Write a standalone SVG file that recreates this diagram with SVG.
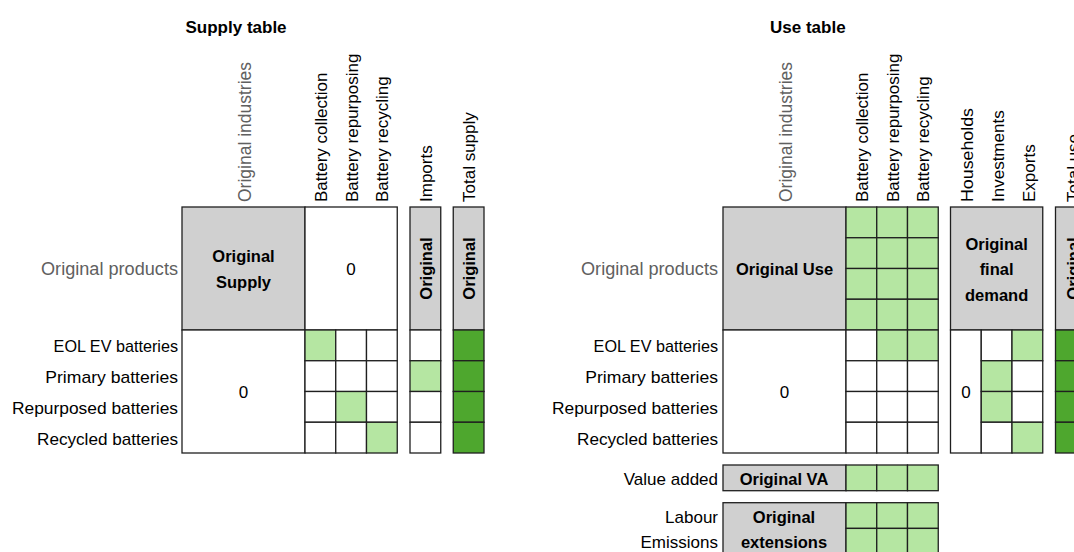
<svg xmlns="http://www.w3.org/2000/svg" width="1074" height="552" viewBox="0 0 1074 552">
<style>
text{font-family:"Liberation Sans",Arial,sans-serif;font-size:17px;fill:#000;stroke:none}
.t{font-weight:bold;font-size:17px}
.b{font-weight:bold;font-size:16.5px}
.gr{fill:#606060;font-size:17.5px}
.e{text-anchor:end}
.m{text-anchor:middle}
.c{stroke:#1f1f1f;stroke-width:1.3}
.g{fill:#d0d0d0}.lg{fill:#b5e6a2}.dg{fill:#4ea72e}.w{fill:#fff}
</style>
<rect x="0" y="0" width="1074" height="552" style="fill:#fff;stroke:none"/>

<!-- SUPPLY TABLE -->
<g id="supply-title"><text class="t" x="185.5" y="32.5">Supply table</text></g>
<g id="supply-col-headers">
<text class="gr" transform="translate(251,202) rotate(-90)">Original industries</text>
<text transform="translate(327,202) rotate(-90)">Battery collection</text>
<text transform="translate(357.7,202) rotate(-90)">Battery repurposing</text>
<text transform="translate(388.4,202) rotate(-90)">Battery recycling</text>
<text transform="translate(432,202) rotate(-90)">Imports</text>
<text transform="translate(475.2,202) rotate(-90)">Total supply</text>
</g>
<g id="supply-row-headers">
<text class="gr e" x="178" y="275.3" textLength="137" lengthAdjust="spacingAndGlyphs">Original products</text>
<text class="e" x="178" y="352.3" textLength="124.4" lengthAdjust="spacingAndGlyphs">EOL EV batteries</text>
<text class="e" x="178" y="383" textLength="132.7" lengthAdjust="spacingAndGlyphs">Primary batteries</text>
<text class="e" x="178" y="413.8" textLength="166" lengthAdjust="spacingAndGlyphs">Repurposed batteries</text>
<text class="e" x="178" y="444.5" textLength="141" lengthAdjust="spacingAndGlyphs">Recycled batteries</text>
</g>
<g id="supply-original" class="c">
<rect class="g" x="182" y="207" width="123" height="123"/>
<text class="b m" x="243.5" y="262">Original</text>
<text class="b m" x="243.5" y="288">Supply</text>
</g>
<g id="supply-zero-top" class="c">
<rect class="w" x="305" y="207" width="92.25" height="123"/>
<text class="m" x="351.1" y="274.8">0</text>
</g>
<g id="supply-zero-bottom" class="c">
<rect class="w" x="182" y="330" width="123" height="123"/>
<text class="m" x="243.5" y="397.5">0</text>
</g>
<g id="supply-battery-grid" class="c">
<rect class="lg" x="305" y="330" width="30.75" height="30.75"/>
<rect class="w" x="335.75" y="330" width="30.75" height="30.75"/>
<rect class="w" x="366.5" y="330" width="30.75" height="30.75"/>
<rect class="w" x="305" y="360.75" width="30.75" height="30.75"/>
<rect class="w" x="335.75" y="360.75" width="30.75" height="30.75"/>
<rect class="w" x="366.5" y="360.75" width="30.75" height="30.75"/>
<rect class="w" x="305" y="391.5" width="30.75" height="30.75"/>
<rect class="lg" x="335.75" y="391.5" width="30.75" height="30.75"/>
<rect class="w" x="366.5" y="391.5" width="30.75" height="30.75"/>
<rect class="w" x="305" y="422.25" width="30.75" height="30.75"/>
<rect class="w" x="335.75" y="422.25" width="30.75" height="30.75"/>
<rect class="lg" x="366.5" y="422.25" width="30.75" height="30.75"/>
</g>
<g id="supply-imports" class="c">
<rect class="g" x="410" y="207" width="30.75" height="123"/>
<text class="b m" transform="translate(431.8,268.5) rotate(-90)">Original</text>
<rect class="w" x="410" y="330" width="30.75" height="30.75"/>
<rect class="lg" x="410" y="360.75" width="30.75" height="30.75"/>
<rect class="w" x="410" y="391.5" width="30.75" height="30.75"/>
<rect class="w" x="410" y="422.25" width="30.75" height="30.75"/>
</g>
<g id="supply-total" class="c">
<rect class="g" x="453.25" y="207" width="30.75" height="123"/>
<text class="b m" transform="translate(475,268.5) rotate(-90)">Original</text>
<rect class="dg" x="453.25" y="330" width="30.75" height="30.75"/>
<rect class="dg" x="453.25" y="360.75" width="30.75" height="30.75"/>
<rect class="dg" x="453.25" y="391.5" width="30.75" height="30.75"/>
<rect class="dg" x="453.25" y="422.25" width="30.75" height="30.75"/>
</g>

<!-- USE TABLE -->
<g id="use-title"><text class="t" x="770" y="32.5">Use table</text></g>
<g id="use-col-headers">
<text class="gr" transform="translate(792,202) rotate(-90)">Original industries</text>
<text transform="translate(868,202) rotate(-90)">Battery collection</text>
<text transform="translate(898.7,202) rotate(-90)">Battery repurposing</text>
<text transform="translate(929.4,202) rotate(-90)">Battery recycling</text>
<text transform="translate(973.2,202) rotate(-90)" textLength="94" lengthAdjust="spacingAndGlyphs">Households</text>
<text transform="translate(1004,202) rotate(-90)">Investments</text>
<text transform="translate(1034.6,202) rotate(-90)">Exports</text>
<text transform="translate(1079,202) rotate(-90)">Total use</text>
</g>
<g id="use-row-headers">
<text class="gr e" x="718" y="275.3" textLength="137" lengthAdjust="spacingAndGlyphs">Original products</text>
<text class="e" x="718" y="352.3" textLength="124.4" lengthAdjust="spacingAndGlyphs">EOL EV batteries</text>
<text class="e" x="718" y="383" textLength="132.7" lengthAdjust="spacingAndGlyphs">Primary batteries</text>
<text class="e" x="718" y="413.8" textLength="166" lengthAdjust="spacingAndGlyphs">Repurposed batteries</text>
<text class="e" x="718" y="444.5" textLength="141" lengthAdjust="spacingAndGlyphs">Recycled batteries</text>
<text class="e" x="718" y="485">Value added</text>
<text class="e" x="718" y="522.5">Labour</text>
<text class="e" x="718" y="547.5">Emissions</text>
</g>
<g id="use-original" class="c">
<rect class="g" x="723" y="207" width="123" height="123"/>
<text class="b m" x="784.5" y="274.8">Original Use</text>
</g>
<g id="use-battery-top" class="c">
<rect class="lg" x="846" y="207" width="30.75" height="30.75"/>
<rect class="lg" x="876.75" y="207" width="30.75" height="30.75"/>
<rect class="lg" x="907.5" y="207" width="30.75" height="30.75"/>
<rect class="lg" x="846" y="237.75" width="30.75" height="30.75"/>
<rect class="lg" x="876.75" y="237.75" width="30.75" height="30.75"/>
<rect class="lg" x="907.5" y="237.75" width="30.75" height="30.75"/>
<rect class="lg" x="846" y="268.5" width="30.75" height="30.75"/>
<rect class="lg" x="876.75" y="268.5" width="30.75" height="30.75"/>
<rect class="lg" x="907.5" y="268.5" width="30.75" height="30.75"/>
<rect class="lg" x="846" y="299.25" width="30.75" height="30.75"/>
<rect class="lg" x="876.75" y="299.25" width="30.75" height="30.75"/>
<rect class="lg" x="907.5" y="299.25" width="30.75" height="30.75"/>
</g>
<g id="use-zero" class="c">
<rect class="w" x="723" y="330" width="123" height="123"/>
<text class="m" x="784.5" y="397.5">0</text>
</g>
<g id="use-battery-bottom" class="c">
<rect class="w" x="846" y="330" width="30.75" height="30.75"/>
<rect class="lg" x="876.75" y="330" width="30.75" height="30.75"/>
<rect class="lg" x="907.5" y="330" width="30.75" height="30.75"/>
<rect class="w" x="846" y="360.75" width="30.75" height="30.75"/>
<rect class="w" x="876.75" y="360.75" width="30.75" height="30.75"/>
<rect class="w" x="907.5" y="360.75" width="30.75" height="30.75"/>
<rect class="w" x="846" y="391.5" width="30.75" height="30.75"/>
<rect class="w" x="876.75" y="391.5" width="30.75" height="30.75"/>
<rect class="w" x="907.5" y="391.5" width="30.75" height="30.75"/>
<rect class="w" x="846" y="422.25" width="30.75" height="30.75"/>
<rect class="w" x="876.75" y="422.25" width="30.75" height="30.75"/>
<rect class="w" x="907.5" y="422.25" width="30.75" height="30.75"/>
</g>
<g id="use-final-demand" class="c">
<rect class="g" x="950.5" y="207" width="92.25" height="123"/>
<text class="b m" x="996.6" y="249.5">Original</text>
<text class="b m" x="996.6" y="275">final</text>
<text class="b m" x="996.6" y="300.5">demand</text>
<rect class="w" x="950.5" y="330" width="30.75" height="123"/>
<text class="m" x="965.9" y="397.5">0</text>
<rect class="w" x="981.25" y="330" width="30.75" height="30.75"/>
<rect class="lg" x="981.25" y="360.75" width="30.75" height="30.75"/>
<rect class="lg" x="981.25" y="391.5" width="30.75" height="30.75"/>
<rect class="w" x="981.25" y="422.25" width="30.75" height="30.75"/>
<rect class="lg" x="1012" y="330" width="30.75" height="30.75"/>
<rect class="w" x="1012" y="360.75" width="30.75" height="30.75"/>
<rect class="w" x="1012" y="391.5" width="30.75" height="30.75"/>
<rect class="lg" x="1012" y="422.25" width="30.75" height="30.75"/>
</g>
<g id="use-total" class="c">
<rect class="g" x="1055.5" y="207" width="30.75" height="123"/>
<text class="b m" transform="translate(1078.5,268.5) rotate(-90)">Original</text>
<rect class="dg" x="1055.5" y="330" width="30.75" height="30.75"/>
<rect class="dg" x="1055.5" y="360.75" width="30.75" height="30.75"/>
<rect class="dg" x="1055.5" y="391.5" width="30.75" height="30.75"/>
<rect class="dg" x="1055.5" y="422.25" width="30.75" height="30.75"/>
</g>
<g id="use-value-added" class="c">
<rect class="g" x="723" y="465" width="123" height="25.7"/>
<text class="b m" x="784" y="485">Original VA</text>
<rect class="lg" x="846" y="465" width="30.75" height="25.7"/>
<rect class="lg" x="876.75" y="465" width="30.75" height="25.7"/>
<rect class="lg" x="907.5" y="465" width="30.75" height="25.7"/>
</g>
<g id="use-extensions" class="c">
<rect class="g" x="723" y="502.7" width="123" height="51.4"/>
<text class="b m" x="784" y="522.7">Original</text>
<text class="b m" x="784" y="548">extensions</text>
<rect class="lg" x="846" y="502.7" width="30.75" height="25.7"/>
<rect class="lg" x="876.75" y="502.7" width="30.75" height="25.7"/>
<rect class="lg" x="907.5" y="502.7" width="30.75" height="25.7"/>
<rect class="lg" x="846" y="528.4" width="30.75" height="25.7"/>
<rect class="lg" x="876.75" y="528.4" width="30.75" height="25.7"/>
<rect class="lg" x="907.5" y="528.4" width="30.75" height="25.7"/>
</g>
</svg>
